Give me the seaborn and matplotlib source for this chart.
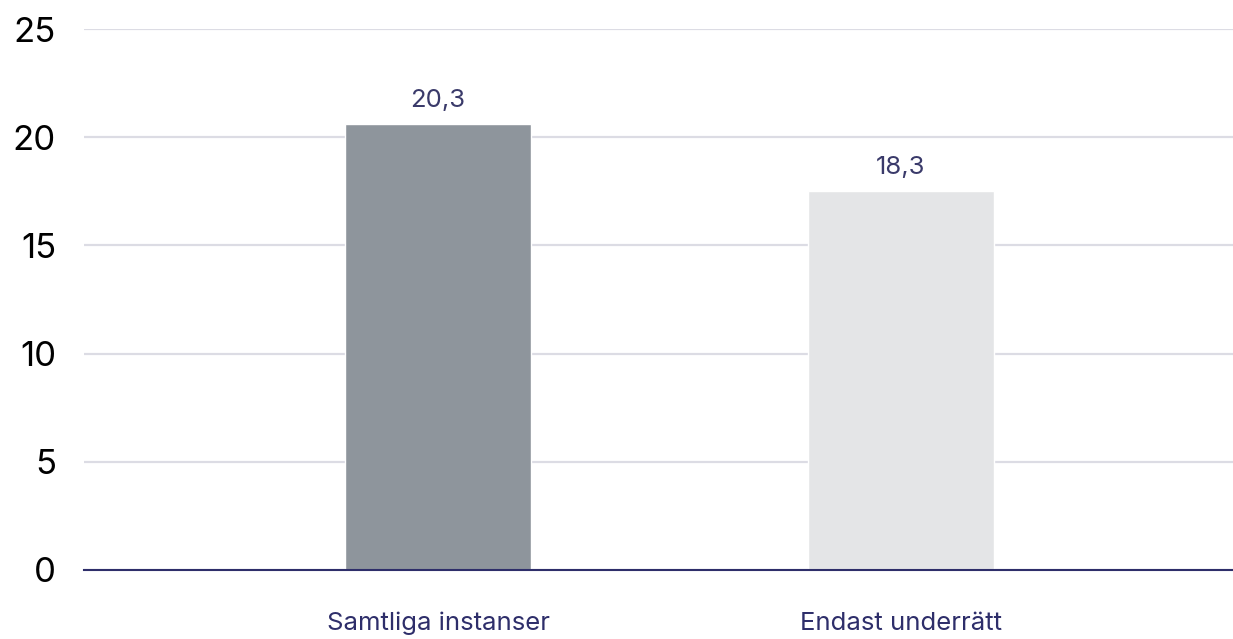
import pandas as pd
import seaborn as sns
import matplotlib.pyplot as plt

categories = ['Samtliga instanser', 'Endast underrätt']
values = [20.6, 17.5]
value_labels = ['20,3', '18,3']
bar_colors = ['#8e959c', '#e4e5e7']
y_ticks = [0, 5, 10, 15, 20, 25]

df = pd.DataFrame({'kategori': categories, 'varde': values})

sns.set_style('white')
plt.rcParams['font.family'] = ['Inter', 'DejaVu Sans']

fig = plt.figure(figsize=(12.33, 6.39), dpi=100)
ax = fig.add_axes([0.068, 0.108, 0.932, 0.8466])

sns.barplot(data=df, x='kategori', y='varde', hue='kategori', palette=bar_colors,
            width=0.4, saturation=1, legend=False, ax=ax, zorder=3)

ax.set_ylim(0, 25)
ax.set_xlim(-0.765, 1.717)
ax.set_yticks(y_ticks)
ax.set_yticklabels([str(t) for t in y_ticks], fontsize=25, color='black')
ax.grid(axis='y', color='#dcdce4', linewidth=1.6, zorder=0)
ax.set_axisbelow(True)
for s in ['top', 'right', 'left']:
    ax.spines[s].set_visible(False)
ax.spines['bottom'].set_color('#2e2e6a')
ax.spines['bottom'].set_linewidth(1.5)
ax.spines['bottom'].set_zorder(4)
ax.tick_params(axis='y', length=0, pad=20)
ax.tick_params(axis='x', length=0, pad=30, labelsize=18.5, labelcolor='#2e2e6a')
ax.set_xlabel('')
ax.set_ylabel('')

for cont, lab in zip(ax.containers, value_labels):
    ax.bar_label(cont, labels=[lab], padding=9, fontsize=18.5, color='#3a3a6a')

fig.savefig('out.png', dpi=100)
